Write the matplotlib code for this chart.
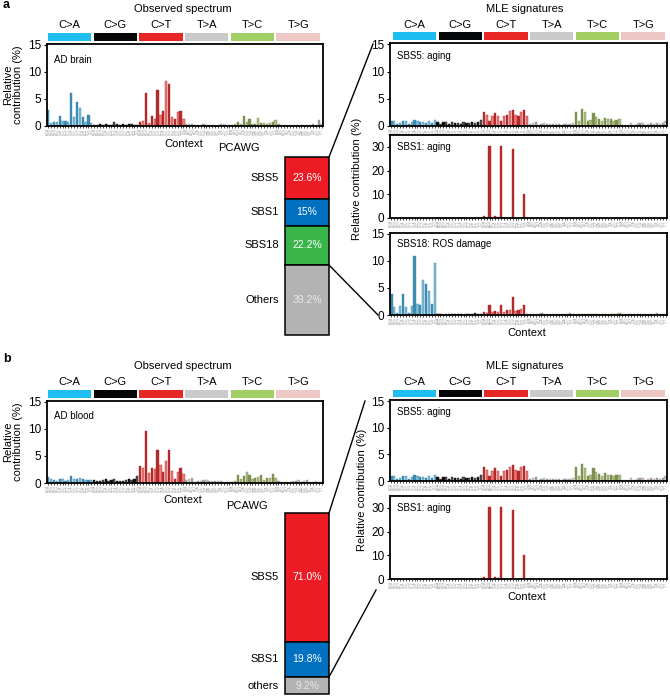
import matplotlib
matplotlib.use("Agg")
import matplotlib.pyplot as plt
import numpy as np
from matplotlib.lines import Line2D

plt.rcParams["font.family"] = ["Liberation Sans", "DejaVu Sans"]

W, H = 670, 696

mut_types = ["C>A", "C>G", "C>T", "T>A", "T>C", "T>G"]
strip_colors = ["#1ebff0", "#050708", "#e62725", "#cbcacb", "#a1cf64", "#edc8c5"]
bar_dark = ["#3d8bb0", "#111111", "#b22a2a", "#9e9e9e", "#7f9150", "#a09898"]
bar_light = ["#7fbcd6", "#555555", "#ee7b7b", "#c8c8c8", "#adbb85", "#cbbcbc"]
bases = "ACGT"
contexts = [f"{a}{t[0]}{b}" for t in mut_types for a in bases for b in bases]

# 96-channel spectra, % (order: C>A, C>G, C>T, T>A, T>C, T>G)
ad_brain = [
    3.0, 0.5, 0.8, 0.8, 1.8, 1.0, 0.9, 0.8, 6.0, 1.6, 4.5, 3.3, 1.6, 0.8, 2.0, 0.6,
    0.2, 0.1, 0.3, 0.1, 0.3, 0.1, 0.1, 0.8, 0.3, 0.1, 0.3, 0.2, 0.4, 0.3, 0.2, 0.2,
    0.8, 1.0, 6.0, 0.5, 1.8, 1.3, 6.7, 2.0, 2.7, 8.2, 7.8, 1.6, 1.3, 2.5, 2.8, 1.3,
    0.3, 0.3, 0.3, 0.1, 0.1, 0.2, 0.3, 0.2, 0.1, 0.2, 0.2, 0.1, 0.4, 0.4, 0.1, 0.1,
    0.2, 0.4, 0.7, 0.3, 1.8, 0.7, 1.3, 0.4, 0.3, 1.4, 0.5, 0.5, 0.3, 0.5, 0.8, 1.1,
    0.4, 0.1, 0.1, 0.1, 0.1, 0.1, 0.1, 0.2, 0.1, 0.2, 0.1, 0.1, 0.3, 0.2, 1.1, 0.3,
]
ad_blood = [
    1.1, 0.8, 0.5, 0.4, 0.8, 0.8, 0.3, 0.6, 1.3, 0.7, 0.7, 1.0, 0.7, 0.6, 0.6, 0.6,
    0.6, 0.3, 0.4, 0.5, 0.8, 0.3, 0.5, 0.8, 0.3, 0.4, 0.4, 0.6, 0.8, 0.5, 0.8, 1.2,
    3.2, 2.7, 9.6, 1.9, 2.7, 2.6, 6.1, 3.4, 2.0, 4.1, 6.0, 2.3, 0.8, 2.1, 2.8, 1.7,
    0.5, 0.7, 1.0, 0.2, 0.3, 0.4, 0.6, 0.6, 0.4, 0.3, 0.3, 0.4, 0.4, 0.2, 0.1, 0.1,
    0.2, 0.4, 1.5, 0.8, 1.3, 2.0, 1.5, 0.8, 1.0, 1.1, 1.4, 0.6, 0.9, 0.9, 1.6, 1.0,
    0.3, 0.1, 0.2, 0.2, 0.1, 0.3, 0.4, 0.5, 0.2, 0.3, 0.5, 0.2, 0.2, 0.3, 0.2, 0.2,
]
sbs5 = [
    0.9, 0.9, 0.3, 0.6, 0.9, 0.9, 0.3, 0.7, 1.1, 1.0, 0.7, 0.8, 0.6, 1.0, 0.5, 1.1,
    0.7, 0.3, 0.8, 0.8, 0.3, 0.7, 0.5, 0.6, 0.3, 0.7, 0.6, 0.5, 0.8, 0.6, 0.8, 1.1,
    2.6, 2.0, 1.0, 1.8, 2.4, 1.8, 1.0, 1.8, 2.0, 2.7, 3.0, 2.0, 1.8, 2.6, 2.9, 1.8,
    0.4, 0.5, 0.7, 0.2, 0.3, 0.5, 0.4, 0.3, 0.3, 0.4, 0.3, 0.2, 0.3, 0.4, 0.4, 0.5,
    2.6, 0.9, 3.1, 2.5, 1.0, 1.1, 2.4, 1.6, 1.3, 1.0, 1.5, 1.2, 1.2, 1.0, 1.1, 1.2,
    0.2, 0.1, 0.1, 0.5, 0.2, 0.3, 0.5, 0.6, 0.1, 0.3, 0.5, 0.3, 0.6, 0.4, 0.6, 0.9,
]
sbs1 = [
    0.0, 0.0, 0.0, 0.0, 0.0, 0.0, 0.0, 0.0, 0.0, 0.0, 0.0, 0.0, 0.0, 0.0, 0.0, 0.0,
    0.0, 0.0, 0.0, 0.0, 0.0, 0.0, 0.0, 0.0, 0.0, 0.0, 0.0, 0.0, 0.0, 0.0, 0.0, 0.0,
    1.0, 0.1, 30.3, 0.1, 0.8, 0.4, 30.3, 0.2, 0.1, 0.1, 29.2, 0.1, 0.1, 0.1, 10.3, 0.1,
    0.0, 0.0, 0.0, 0.0, 0.0, 0.0, 0.0, 0.0, 0.0, 0.0, 0.0, 0.0, 0.0, 0.0, 0.0, 0.0,
    0.0, 0.0, 0.0, 0.0, 0.0, 0.0, 0.0, 0.0, 0.0, 0.0, 0.0, 0.0, 0.0, 0.0, 0.0, 0.0,
    0.0, 0.0, 0.0, 0.0, 0.0, 0.0, 0.0, 0.0, 0.0, 0.0, 0.0, 0.0, 0.0, 0.0, 0.0, 0.0,
]
sbs18 = [
    3.8, 1.5, 0.3, 1.6, 3.8, 1.5, 0.4, 1.6, 10.8, 2.1, 1.8, 6.5, 5.7, 4.4, 2.1, 9.5,
    0.1, 0.2, 0.05, 0.2, 0.1, 0.2, 0.2, 0.1, 0.1, 0.05, 0.1, 0.1, 0.1, 0.4, 0.1, 0.1,
    0.6, 0.4, 1.8, 0.6, 0.7, 0.5, 1.8, 0.5, 0.9, 1.0, 3.4, 0.7, 0.9, 1.1, 1.9, 0.2,
    0.2, 0.1, 0.1, 0.1, 0.3, 0.1, 0.2, 0.2, 0.1, 0.1, 0.1, 0.2, 0.1, 0.2, 0.3, 0.1,
    0.1, 0.1, 0.2, 0.2, 0.1, 0.1, 0.1, 0.1, 0.1, 0.1, 0.2, 0.1, 0.1, 0.2, 0.1, 0.3,
    0.1, 0.1, 0.1, 0.1, 0.1, 0.1, 0.2, 0.1, 0.1, 0.1, 0.2, 0.1, 0.3, 0.1, 0.1, 0.2,
]

# PCAWG exposures
brain_sigs = ["SBS5", "SBS1", "SBS18", "Others"]
brain_share = [23.6, 15.0, 22.2, 39.2]
brain_share_txt = ["23.6%", "15%", "22.2%", "39.2%"]
brain_colors = ["#ed1c24", "#0070c0", "#39b54a", "#b3b3b3"]
blood_sigs = ["SBS5", "SBS1", "others"]
blood_share = [71.0, 19.8, 9.2]
blood_share_txt = ["71.0%", "19.8%", "9.2%"]
blood_colors = ["#ed1c24", "#0070c0", "#b3b3b3"]

FS = 8


def rect(x0, y0, x1, y1):
    return [x0 / W, 1 - y1 / H, (x1 - x0) / W, (y1 - y0) / H]


def fx(x):
    return x / W


def fy(y):
    return 1 - y / H


fig = plt.figure(figsize=(W / 100, H / 100), dpi=100)


def spectrum(box, values, ymax, yticks, label, label_y):
    ax = fig.add_axes(rect(*box))
    x = np.arange(96)
    colors = [(bar_light if i % 2 else bar_dark)[i // 16] for i in x]
    edges = [bar_dark[i // 16] for i in x]
    ax.bar(x, values, width=0.78, color=colors, edgecolor=edges, linewidth=0.3)
    ax.set_xlim(-0.5, 95.5)
    ax.set_ylim(0, ymax)
    ax.set_yticks(yticks)
    ax.set_xticks(x)
    ax.set_xticklabels(contexts, rotation=90, fontsize=2.2, color="#999999")
    ax.tick_params(axis="x", length=1.5, width=0.5, pad=0.5)
    ax.tick_params(axis="y", length=2.5, width=0.8, labelsize=8.5, pad=1.5)
    for s in ax.spines.values():
        s.set_linewidth(1.3)
    ax.text(0.025, label_y, label, transform=ax.transAxes, fontsize=7,
            va="center", ha="left")
    return ax


def strip(x0, x1, y0, y1):
    ax = fig.add_axes(rect(x0, y0, x1, y1))
    ax.bar(range(6), 1, width=0.95, color=strip_colors)
    for i, t in enumerate(mut_types):
        ax.text(i, 2.0, t, ha="center", va="center", fontsize=FS, clip_on=False)
    ax.set_xlim(-0.5, 5.5)
    ax.set_ylim(0, 1)
    ax.axis("off")


def stack(box, names, shares, texts, colors):
    ax = fig.add_axes(rect(*box))
    bottom = 0
    for name, v, t, c in zip(names, shares, texts, colors):
        ax.bar(0, v, bottom=bottom, width=1, color=c, edgecolor="black",
               linewidth=1.1, clip_on=False)
        tc = "#e8e8e8" if c == "#b3b3b3" else "white"
        ax.text(0, bottom + v / 2, t, ha="center", va="center", fontsize=7.5, color=tc)
        ax.text(-0.64, bottom + v / 2, name, ha="right", va="center", fontsize=FS)
        bottom += v
    ax.set_xlim(-0.5, 0.5)
    ax.set_ylim(bottom, 0)
    ax.axis("off")


def line(p, q):
    fig.add_artist(Line2D([fx(p[0]), fx(q[0])], [fy(p[1]), fy(q[1])],
                          color="black", lw=1.0, transform=fig.transFigure))


t15 = [0, 5, 10, 15]
t30 = [0, 10, 20, 30]

# ---------------- panel a ----------------
fig.text(fx(3), fy(5), "a", fontsize=9, fontweight="bold", va="center")
fig.text(fx(183), fy(9), "Observed spectrum", fontsize=FS, ha="center", va="center")
fig.text(fx(525), fy(9), "MLE signatures", fontsize=FS, ha="center", va="center")
strip(46.7, 321, 33, 40.7)
strip(391.7, 666, 32.3, 39.5)

spectrum((46.7, 43.5, 323, 126), ad_brain, 15.2, t15, "AD brain", 0.8)
fig.text(fx(13), fy(85), "Relative\ncontribution (%)", rotation=90, fontsize=FS,
         ha="center", va="center", linespacing=1.0)
fig.text(fx(184), fy(144), "Context", fontsize=FS, ha="center", va="center")
fig.text(fx(239), fy(148), "PCAWG", fontsize=FS, ha="center", va="center")

spectrum((390, 43.3, 667, 126), sbs5, 15.2, t15, "SBS5: aging", 0.85)
spectrum((390, 135, 667, 218), sbs1, 35, t30, "SBS1: aging", 0.86)
spectrum((390, 233, 667, 315), sbs18, 15.1, t15, "SBS18: ROS damage", 0.865)
fig.text(fx(357), fy(179), "Relative contribution (%)", rotation=90, fontsize=FS,
         ha="center", va="center")
fig.text(fx(527), fy(333), "Context", fontsize=FS, ha="center", va="center")

stack((285, 157, 329, 335), brain_sigs, brain_share, brain_share_txt, brain_colors)
line((329, 157), (373, 44))
line((329, 265), (378, 315))

# ---------------- panel b ----------------
fig.text(fx(3), fy(359), "b", fontsize=9, fontweight="bold", va="center")
fig.text(fx(183), fy(366), "Observed spectrum", fontsize=FS, ha="center", va="center")
fig.text(fx(525), fy(366), "MLE signatures", fontsize=FS, ha="center", va="center")
strip(46.7, 321, 390, 397.5)
strip(391.7, 666, 389.5, 397)

spectrum((46.7, 400.5, 323, 483), ad_blood, 15.2, t15, "AD blood", 0.81)
fig.text(fx(13), fy(442), "Relative\ncontribution (%)", rotation=90, fontsize=FS,
         ha="center", va="center", linespacing=1.0)
fig.text(fx(183), fy(500), "Context", fontsize=FS, ha="center", va="center")
fig.text(fx(247), fy(506), "PCAWG", fontsize=FS, ha="center", va="center")

spectrum((390, 400, 667, 481), sbs5, 15.2, t15, "SBS5: aging", 0.85)
spectrum((390, 496, 667, 579), sbs1, 35, t30, "SBS1: aging", 0.86)
fig.text(fx(362), fy(490), "Relative contribution (%)", rotation=90, fontsize=FS,
         ha="center", va="center")
fig.text(fx(527), fy(597), "Context", fontsize=FS, ha="center", va="center")

stack((285, 513, 329, 694), blood_sigs, blood_share, blood_share_txt, blood_colors)
line((329, 513), (365, 401))
line((329, 677), (376, 590))

fig.savefig("out.png", dpi=100)
